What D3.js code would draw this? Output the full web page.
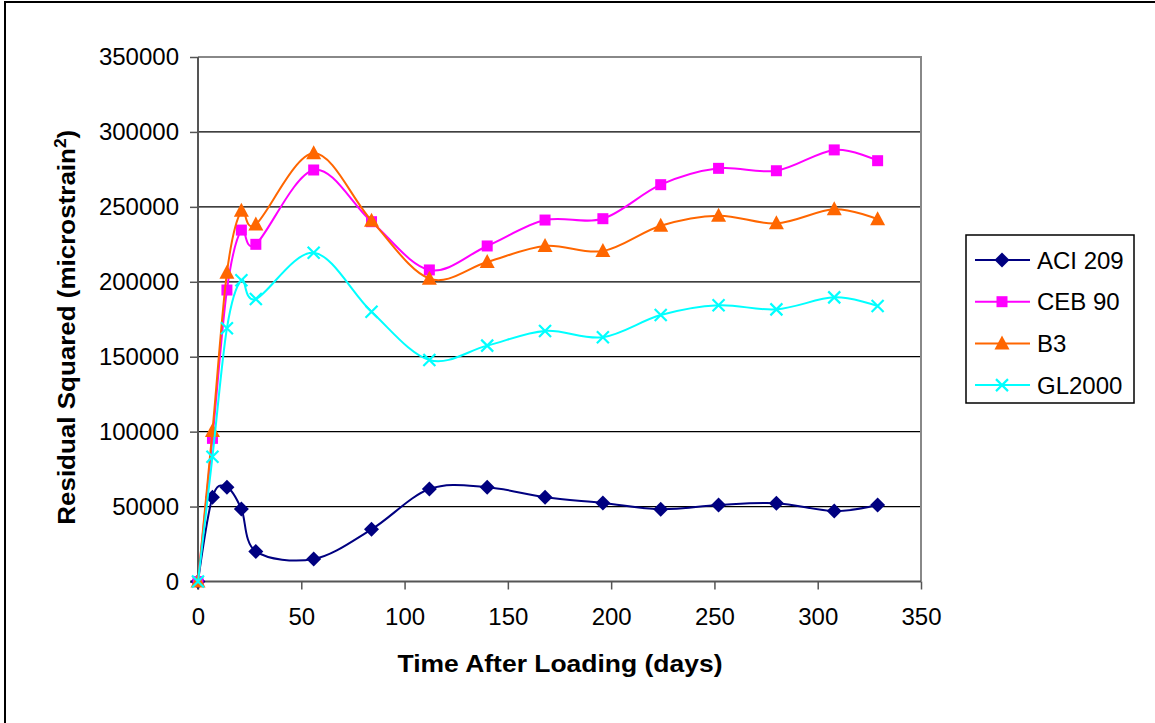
<!DOCTYPE html>
<html>
<head>
<meta charset="utf-8">
<script src="https://cdn.jsdelivr.net/npm/d3@7/dist/d3.min.js"></script>
<style>
  html, body { margin: 0; padding: 0; background: #fff; }
  svg { display: block; font-family: "Liberation Sans", Arial, sans-serif; }
</style>
</head>
<body>
<svg id="chart" width="1155" height="723"></svg>
<script>
// Time after loading (days)
const days = [0, 7, 14, 21, 28, 56, 84, 112, 140, 168, 196, 224, 252, 280, 308, 329];

// Residual squared (microstrain^2) for each prediction model
const aci209 = [0, 56200, 62900, 48400, 20100, 15000, 34800, 61700, 62900, 56200, 52400, 48200, 51000, 52200, 47000, 51000];
const ceb90  = [0, 95500, 194500, 234500, 225000, 274600, 240100, 207900, 223900, 241200, 242100, 264800, 275700, 274100, 288000, 280800];
const b3     = [0, 100500, 206000, 247400, 238300, 285700, 240800, 202100, 213200, 223900, 220500, 237400, 244100, 239000, 248400, 241700];
const gl2000 = [0, 83300, 169000, 201000, 188500, 219400, 180000, 147800, 157400, 167200, 163000, 177800, 184300, 181600, 189600, 183800];

const seriesNames = ["ACI 209", "CEB 90", "B3", "GL2000"];
const xTicks = [0, 50, 100, 150, 200, 250, 300, 350];
const yTicks = [0, 50000, 100000, 150000, 200000, 250000, 300000, 350000];

const series = [
  { name: seriesNames[0], values: aci209, color: "#000080", marker: "diamond" },
  { name: seriesNames[1], values: ceb90,  color: "#ff00ff", marker: "square" },
  { name: seriesNames[2], values: b3,     color: "#ff6600", marker: "triangle" },
  { name: seriesNames[3], values: gl2000, color: "#00ffff", marker: "cross" }
];

const svg = d3.select("#chart");

// outer frame
svg.append("rect")
  .attr("x", 5).attr("y", 2).attr("width", 1160).attr("height", 730)
  .attr("fill", "#fff").attr("stroke", "#000").attr("stroke-width", 2);

const plot = { left: 198, top: 57, right: 921, bottom: 581.5 };

const x = d3.scaleLinear().domain([0, 350]).range([plot.left, plot.right]);
const y = d3.scaleLinear().domain([0, 350000]).range([plot.bottom, plot.top]);

// horizontal gridlines
svg.append("g").selectAll("line")
  .data(yTicks.filter(t => t > 0 && t < 350000))
  .join("line")
  .attr("x1", plot.left).attr("x2", plot.right)
  .attr("y1", d => y(d)).attr("y2", d => y(d))
  .attr("stroke", "#000").attr("stroke-width", 1.2);

// plot area border (top/right)
svg.append("path")
  .attr("d", `M${plot.left},${plot.top}H${plot.right}V${plot.bottom}`)
  .attr("fill", "none").attr("stroke", "#888").attr("stroke-width", 2);

// axes
const yAxis = d3.axisLeft(y).tickValues(yTicks).tickSize(8).tickPadding(11).tickFormat(d3.format("d"));
const xAxis = d3.axisBottom(x).tickValues(xTicks).tickSize(8).tickPadding(18).tickFormat(d3.format("d"));

const gy = svg.append("g").attr("transform", `translate(${plot.left},0)`).call(yAxis);
const gx = svg.append("g").attr("transform", `translate(0,${plot.bottom})`).call(xAxis);

[gx, gy].forEach(g => {
  g.select(".domain").attr("stroke", "#555").attr("stroke-width", 2);
  g.selectAll(".tick line").attr("stroke", "#555").attr("stroke-width", 1.5);
  g.selectAll(".tick text")
    .attr("fill", "#000")
    .style("font-family", "'Liberation Sans', Arial, sans-serif")
    .style("font-size", "24px");
});
gy.select(".domain").attr("d", `M0,${plot.top}V${plot.bottom + 8}`);
gx.select(".domain").attr("d", `M${plot.left - 8},0H${plot.right}`);

// axis titles
svg.append("text")
  .attr("x", 560).attr("y", 672)
  .attr("text-anchor", "middle")
  .attr("textLength", 325).attr("lengthAdjust", "spacingAndGlyphs")
  .style("font-size", "24px").style("font-weight", "bold")
  .text("Time After Loading (days)");

const yTitle = svg.append("text")
  .attr("transform", `translate(75,${(plot.top + plot.bottom) / 2 + 8}) rotate(-90)`)
  .attr("text-anchor", "middle")
  .attr("textLength", 395).attr("lengthAdjust", "spacingAndGlyphs")
  .style("font-size", "24px").style("font-weight", "bold");
yTitle.append("tspan").text("Residual Squared (microstrain");
yTitle.append("tspan").attr("dy", -9).style("font-size", "16px").text("2");
yTitle.append("tspan").attr("dy", 9).text(")");

// marker drawing
function drawMarker(g, type, color) {
  if (type === "diamond") {
    g.append("path").attr("d", "M0,-7.5L7.5,0L0,7.5L-7.5,0Z").attr("fill", color);
  } else if (type === "square") {
    g.append("rect").attr("x", -5.5).attr("y", -5.5).attr("width", 11).attr("height", 11).attr("fill", color);
  } else if (type === "triangle") {
    g.append("path").attr("d", "M0,-8L7.5,6L-7.5,6Z").attr("fill", color);
  } else {
    g.append("path").attr("d", "M-6,-6L6,6M-6,6L6,-6")
      .attr("stroke", color).attr("stroke-width", 2.2).attr("fill", "none");
  }
}

const line = d3.line()
  .x(d => x(d[0]))
  .y(d => y(d[1]))
  .curve(d3.curveCardinal.tension(0));

series.forEach(s => {
  const pts = days.map((dd, i) => [dd, s.values[i]]);
  svg.append("path")
    .datum(pts)
    .attr("d", line)
    .attr("fill", "none")
    .attr("stroke", s.color)
    .attr("stroke-width", 2);
  const mg = svg.append("g");
  pts.forEach(p => {
    const g = mg.append("g").attr("transform", `translate(${x(p[0])},${y(p[1])})`);
    drawMarker(g, s.marker, s.color);
  });
});

// legend
const legend = svg.append("g");
legend.append("rect")
  .attr("x", 966).attr("y", 235).attr("width", 168).attr("height", 168)
  .attr("fill", "#fff").attr("stroke", "#000").attr("stroke-width", 1.5);

series.forEach((s, i) => {
  const ly = 260 + i * 41.7;
  legend.append("line")
    .attr("x1", 975).attr("x2", 1030).attr("y1", ly).attr("y2", ly)
    .attr("stroke", s.color).attr("stroke-width", 2);
  const g = legend.append("g").attr("transform", `translate(1002,${ly})`);
  drawMarker(g, s.marker, s.color);
  legend.append("text")
    .attr("x", 1037).attr("y", ly + 8.5)
    .style("font-size", "24px")
    .text(s.name);
});
</script>
</body>
</html>
